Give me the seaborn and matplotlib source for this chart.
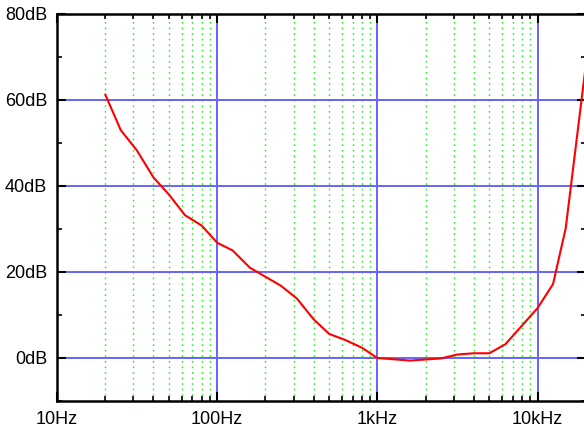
import matplotlib
matplotlib.use("Agg")
import matplotlib.pyplot as plt
import matplotlib.ticker as mticker
import seaborn as sns
import pandas as pd

freq_hz = [20, 25, 31.5, 40, 50, 63, 80, 100, 125, 160, 200, 250, 315, 400, 500,
           630, 800, 1000, 1600, 2500, 3150, 4000, 5000, 6300, 10000, 12500, 15000, 20000]
level_db = [61.3, 53.0, 48.3, 42.0, 38.0, 33.2, 30.8, 26.8, 25.0, 21.0, 18.9, 16.8, 13.8, 9.0, 5.6,
            4.2, 2.4, 0.0, -0.6, -0.1, 0.8, 1.1, 1.1, 3.2, 11.6, 17.2, 30.2, 68.0]

x_tick_vals = [10, 100, 1000, 10000]
x_tick_labels = ["10Hz", "100Hz", "1kHz", "10kHz"]
y_tick_vals = [0, 20, 40, 60, 80]
y_tick_labels = ["0dB", "20dB", "40dB", "60dB", "80dB"]

df = pd.DataFrame({"freq": freq_hz, "level": level_db})

sns.set_style("ticks")
plt.rcParams['font.family'] = ['Liberation Sans', 'DejaVu Sans']

fig = plt.figure(figsize=(5.84, 4.30), dpi=100)
ax = fig.add_axes([57/584, 29/430, 1.003 - 57/584, (401-14)/430])

sns.lineplot(data=df, x="freq", y="level", color="#ff0000", linewidth=1.5, ax=ax, zorder=5)

ax.set_xscale("log")
ax.set_xlim(10, 20000)
ax.set_ylim(-10, 80)

ax.xaxis.set_major_locator(mticker.FixedLocator(x_tick_vals))
ax.xaxis.set_major_formatter(mticker.FixedFormatter(x_tick_labels))
ax.xaxis.set_minor_locator(mticker.LogLocator(base=10, subs=[2, 3, 4, 5, 6, 7, 8, 9], numticks=20))
ax.xaxis.set_minor_formatter(mticker.NullFormatter())
ax.yaxis.set_major_locator(mticker.FixedLocator(y_tick_vals))
ax.yaxis.set_major_formatter(mticker.FixedFormatter(y_tick_labels))
ax.yaxis.set_minor_locator(mticker.MultipleLocator(10))

ax.grid(which="major", axis="both", color="#6464ff", linewidth=1.4, linestyle="-", zorder=1)
ax.grid(which="minor", axis="x", color="#22ee22", linewidth=1.0, linestyle=(0, (1.2, 2.8)), zorder=1)
ax.set_axisbelow(True)

ax.tick_params(which="major", direction="in", length=6.5, width=1.5, color="black",
               top=True, right=True, labelsize=13, labelcolor="black")
ax.tick_params(which="minor", direction="in", length=3.6, width=1.2, color="black",
               top=True, right=True)
ax.tick_params(axis="x", which="major", pad=7)
ax.tick_params(axis="y", which="major", pad=7)

for side in ["left", "bottom", "top"]:
    ax.spines[side].set_visible(True)
    ax.spines[side].set_color("black")
    ax.spines[side].set_linewidth(1.8)
ax.spines["right"].set_visible(False)

ax.set_xlabel("")
ax.set_ylabel("")
if ax.get_legend():
    ax.get_legend().remove()

fig.savefig("out.png", dpi=100)
